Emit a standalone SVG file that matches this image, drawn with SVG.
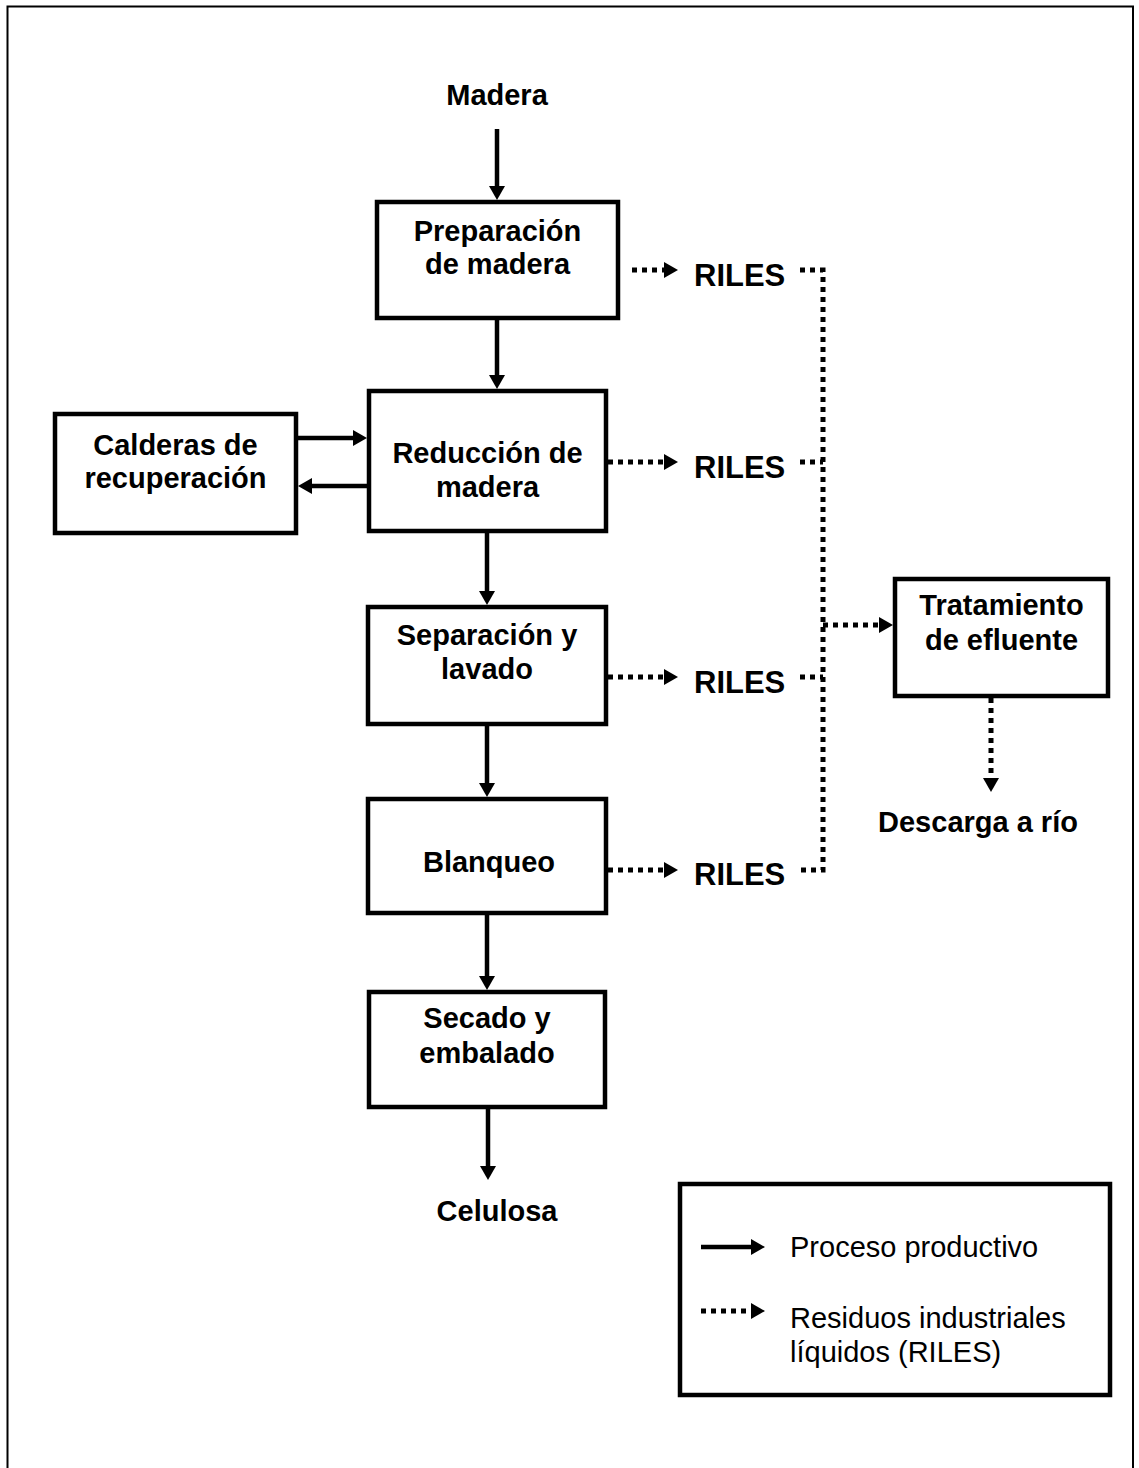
<svg xmlns="http://www.w3.org/2000/svg" width="1139" height="1468" viewBox="0 0 1139 1468">
<style>
.box{fill:#fff;stroke:#000;stroke-width:4.5}
.t{font-family:"Liberation Sans",Arial,sans-serif;font-weight:bold;font-size:29px;fill:#000;text-anchor:middle}
.r{font-family:"Liberation Sans",Arial,sans-serif;font-weight:bold;font-size:31px;fill:#000}
.lg{font-family:"Liberation Sans",Arial,sans-serif;font-size:29px;fill:#000}
.solid{fill:none;stroke:#000;stroke-width:4.5;marker-end:url(#ah)}
.dot{fill:none;stroke:#000;stroke-width:5;stroke-dasharray:5 5}
.dota{fill:none;stroke:#000;stroke-width:5;stroke-dasharray:5 5;marker-end:url(#ah)}
</style>
<defs>
<marker id="ah" markerUnits="userSpaceOnUse" markerWidth="18" markerHeight="18" refX="4" refY="8" orient="auto">
<path d="M0,0 L14,8 L0,16 z" fill="#000"/>
</marker>
</defs>
<rect width="1139" height="1468" fill="#fff"/>
<path d="M7.5,1480 V6.5 H1133 V1480" fill="none" stroke="#000" stroke-width="2"/>

<g id="connectors">
<path class="solid" d="M497,129 V190"/>
<path class="solid" d="M497,320 V379"/>
<path class="solid" d="M487,533 V595"/>
<path class="solid" d="M487,726 V787"/>
<path class="solid" d="M487,915 V980"/>
<path class="solid" d="M488,1109 V1170"/>
<path class="solid" d="M298,438 H357"/>
<path class="solid" d="M367,486 H308"/>
<path class="dota" d="M632,270 H668"/>
<path class="dota" d="M608,462 H668"/>
<path class="dota" d="M608,677 H668"/>
<path class="dota" d="M608,870 H668"/>
<path class="dot" d="M800,270 H823 V870 H800"/>
<path class="dot" d="M800,462 H823"/>
<path class="dot" d="M800,677 H823"/>
<path class="dota" d="M823,625 H883"/>
<path class="dota" d="M991,698 V782"/>
</g>

<g id="madera"><text class="t" x="497" y="105">Madera</text></g>
<g id="preparacion">
<rect class="box" x="377" y="202" width="241" height="116"/>
<text class="t" x="497.5" y="241">Preparación</text>
<text class="t" x="497.5" y="274">de madera</text>
</g>
<g id="reduccion">
<rect class="box" x="369" y="391" width="237" height="140"/>
<text class="t" x="487.5" y="463">Reducción de</text>
<text class="t" x="487.5" y="497">madera</text>
</g>
<g id="calderas">
<rect class="box" x="55" y="414" width="241" height="119"/>
<text class="t" x="175.5" y="455">Calderas de</text>
<text class="t" x="175.5" y="488">recuperación</text>
</g>
<g id="separacion">
<rect class="box" x="368" y="607" width="238" height="117"/>
<text class="t" x="487" y="645">Separación y</text>
<text class="t" x="487" y="679">lavado</text>
</g>
<g id="blanqueo">
<rect class="box" x="368" y="799" width="238" height="114"/>
<text class="t" x="489" y="872">Blanqueo</text>
</g>
<g id="secado">
<rect class="box" x="369" y="992" width="236" height="115"/>
<text class="t" x="487" y="1028">Secado y</text>
<text class="t" x="487" y="1063">embalado</text>
</g>
<g id="celulosa"><text class="t" x="497" y="1221">Celulosa</text></g>
<g id="riles1"><text class="r" x="694" y="286">RILES</text></g>
<g id="riles2"><text class="r" x="694" y="478">RILES</text></g>
<g id="riles3"><text class="r" x="694" y="693">RILES</text></g>
<g id="riles4"><text class="r" x="694" y="885">RILES</text></g>
<g id="tratamiento">
<rect class="box" x="895" y="579" width="213" height="117"/>
<text class="t" x="1001.5" y="615">Tratamiento</text>
<text class="t" x="1001.5" y="650">de efluente</text>
</g>
<g id="descarga"><text class="t" x="978" y="832">Descarga a río</text></g>
<g id="legend">
<rect class="box" x="680" y="1184" width="430" height="211"/>
<path class="solid" d="M701,1247 H755"/>
<path class="dota" d="M701,1311 H755"/>
<text class="lg" x="790" y="1257">Proceso productivo</text>
<text class="lg" x="790" y="1328">Residuos industriales</text>
<text class="lg" x="790" y="1362">líquidos (RILES)</text>
</g>
</svg>
